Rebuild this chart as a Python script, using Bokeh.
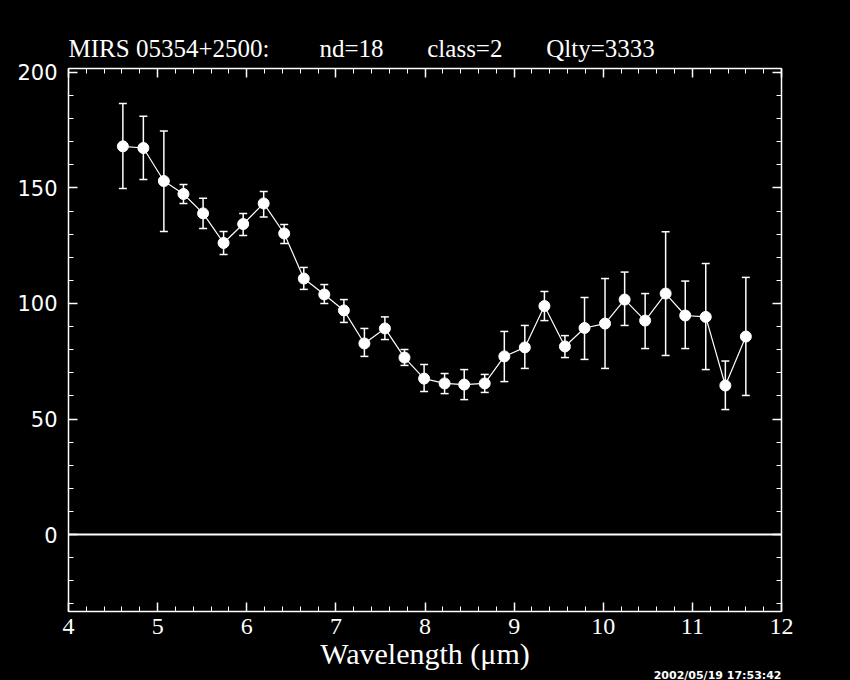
from bokeh.plotting import figure
from bokeh.models import (ColumnDataSource, Whisker, TeeHead, Span, Title,
                          LinearAxis, FixedTicker, Range1d, GlobalInlineStyleSheet)
from bokeh.embed import file_html
from bokeh.resources import INLINE

# ---- data ----
wavelength = [4.61, 4.84, 5.07, 5.29, 5.51, 5.74, 5.96, 6.19, 6.42, 6.64, 6.87,
              7.09, 7.32, 7.55, 7.77, 7.99, 8.22, 8.44, 8.67, 8.89, 9.12, 9.34,
              9.57, 9.79, 10.02, 10.24, 10.47, 10.70, 10.92, 11.15, 11.37, 11.60]
flux = [168.0, 167.3, 153.0, 147.4, 139.0, 126.2, 134.4, 143.3, 130.3, 110.8, 103.9,
        97.0, 82.7, 89.2, 76.6, 67.5, 65.4, 64.9, 65.4, 77.1, 81.0, 98.9,
        81.4, 89.4, 91.3, 101.7, 92.6, 104.3, 94.8, 94.2, 64.5, 85.7]
flux_hi = [186.6, 181.0, 174.7, 151.5, 145.5, 131.2, 139.0, 148.5, 134.2, 115.6, 108.2,
           101.7, 89.2, 94.2, 80.1, 73.6, 69.7, 71.4, 69.3, 87.9, 90.5, 105.2,
           86.1, 102.6, 110.8, 113.6, 104.3, 131.0, 109.7, 117.3, 75.1, 111.3]
flux_lo = [149.8, 153.7, 131.2, 143.3, 132.5, 121.2, 129.4, 137.4, 126.0, 106.1, 100.0,
           91.8, 77.1, 84.4, 73.2, 61.9, 61.0, 58.4, 61.5, 66.2, 71.9, 92.6,
           76.6, 75.8, 71.9, 90.5, 80.5, 77.5, 80.5, 71.4, 54.1, 60.2]

x_major = [4, 5, 6, 7, 8, 9, 10, 11, 12]
x_minor = [4 + 0.2 * i for i in range(41)]
y_major = [0, 50, 100, 150, 200]
y_minor = [-30 + 10 * i for i in range(24)]

NB = "\u00a0"
title_text = ("MIRS 05354+2500:" + NB * 8 + "nd=18" + NB * 7 + "class=2"
              + NB * 7 + "Qlty=3333")
x_label = "Wavelength (\u03bcm)"
stamp = "2002/05/19 17:53:42"

src = ColumnDataSource(dict(x=wavelength, y=flux, hi=flux_hi, lo=flux_lo))

p = figure(width=850, height=680, output_backend="svg", toolbar_location=None,
           x_range=Range1d(4, 12), y_range=Range1d(-33.3, 201.7),
           min_border_left=68, min_border_right=69, min_border_top=68,
           min_border_bottom=69, background_fill_color="black",
           border_fill_color="black", outline_line_color="white",
           x_axis_location=None, y_axis_location=None)
p.stylesheets = [GlobalInlineStyleSheet(
    css="html, body { background-color: black; overflow: hidden; }")]
p.xgrid.visible = False
p.ygrid.visible = False


def style_axis(ax, major, minor, labels=True, font="Liberation Serif", size="24px"):
    ax.ticker = FixedTicker(ticks=major, minor_ticks=minor)
    ax.axis_line_color = "white"
    ax.axis_line_width = 1.5
    ax.major_tick_line_color = "white"
    ax.minor_tick_line_color = "white"
    ax.major_tick_line_width = 1.5
    ax.minor_tick_line_width = 1
    ax.major_tick_in = 9
    ax.major_tick_out = 0
    ax.minor_tick_in = 5
    ax.minor_tick_out = 0
    if labels:
        ax.major_label_text_color = "white"
        ax.major_label_text_font = font
        ax.major_label_text_font_size = size
        ax.major_label_standoff = 8
    else:
        ax.major_label_text_color = None
        ax.major_label_text_font_size = "1px"
        ax.major_label_standoff = 0


xb = LinearAxis(axis_label=x_label)
style_axis(xb, x_major, x_minor, True, "Liberation Serif", "24px")
xb.major_label_standoff = 7
xb.axis_label_text_color = "white"
xb.axis_label_text_font = "Liberation Serif"
xb.axis_label_text_font_size = "30px"
xb.axis_label_text_font_style = "normal"
xb.axis_label_standoff = 0
p.add_layout(xb, "below")
xt = LinearAxis()
style_axis(xt, x_major, x_minor, False)
p.add_layout(xt, "above")
yl = LinearAxis()
style_axis(yl, y_major, y_minor, True, "DejaVu Sans", "21px")
yl.major_label_standoff = 11
p.add_layout(yl, "left")
yr = LinearAxis()
style_axis(yr, y_major, y_minor, False)
p.add_layout(yr, "right")

p.add_layout(Title(text=title_text, align="left", text_color="white",
                   text_font="Liberation Serif", text_font_size="25px",
                   text_font_style="normal", standoff=13), "above")

p.add_layout(Title(text=stamp, align="right", text_color="white",
                   text_font="DejaVu Sans", text_font_size="11px",
                   text_font_style="bold", standoff=-12), "below")

p.add_layout(Span(location=0, dimension="width", line_color="white", line_width=2))

p.add_layout(Whisker(source=src, base="x", upper="hi", lower="lo",
                     line_color="white", line_width=1.5,
                     upper_head=TeeHead(size=8, line_color="white", line_width=1.5),
                     lower_head=TeeHead(size=8, line_color="white", line_width=1.5)))
p.line("x", "y", source=src, line_color="white", line_width=1.2)
p.scatter("x", "y", source=src, size=11, fill_color="white", line_color="white")

open("out.html", "w").write(file_html(p, INLINE))
